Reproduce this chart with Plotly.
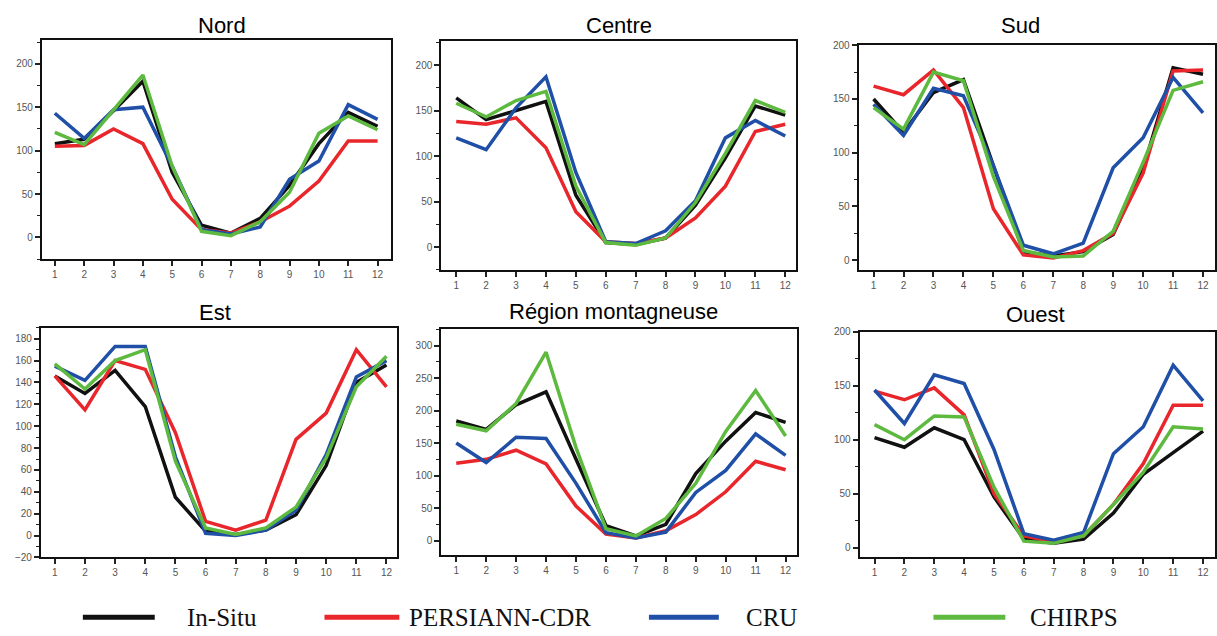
import plotly.graph_objects as go

W, H = 1217, 636

months = list(range(1, 13))
month_labels = [str(m) for m in months]

series_names = ["In-Situ", "PERSIANN-CDR", "CRU", "CHIRPS"]
series_colors = ["#111111", "#e8262b", "#1f4fa6", "#5dba3f"]

regions = ["Nord", "Centre", "Sud", "Est", "Région montagneuse", "Ouest"]

# Nord
nord_insitu = [108, 113, 146, 180, 75, 14, 5, 22, 60, 108, 144, 128]
nord_persiann = [105, 106, 125, 108, 44, 9, 5, 18, 36, 65, 111, 111]
nord_cru = [143, 114, 147, 150, 82, 9, 4, 12, 67, 88, 153, 136]
nord_chirps = [121, 107, 147, 187, 82, 7, 2, 18, 52, 120, 140, 124]

# Centre
centre_insitu = [164, 140, 150, 160, 57, 5, 3, 10, 46, 98, 155, 145]
centre_persiann = [138, 135, 142, 109, 39, 6, 4, 10, 32, 67, 127, 135]
centre_cru = [120, 107, 153, 187, 82, 6, 4, 18, 51, 120, 139, 122]
centre_chirps = [158, 143, 161, 171, 67, 5, 2, 10, 49, 103, 161, 148]

# Sud
sud_insitu = [150, 119, 156, 168, 88, 8, 4, 8, 24, 85, 179, 173]
sud_persiann = [162, 154, 177, 142, 48, 5, 2, 9, 25, 81, 176, 177]
sud_cru = [145, 116, 160, 153, 88, 14, 6, 16, 86, 114, 170, 137]
sud_chirps = [142, 122, 175, 167, 78, 9, 3, 4, 27, 91, 158, 166]

# Est
est_insitu = [146, 130, 151, 118, 35, 4, 1, 5, 19, 64, 140, 156]
est_persiann = [146, 115, 160, 152, 94, 13, 5, 14, 88, 112, 170, 136]
est_cru = [155, 142, 173, 173, 72, 2, 0, 5, 23, 74, 145, 160]
est_chirps = [157, 134, 160, 170, 68, 7, 1, 7, 26, 71, 136, 164]

# Région montagneuse
mont_insitu = [184, 171, 209, 229, 125, 23, 7, 25, 103, 153, 197, 182]
mont_persiann = [119, 125, 139, 118, 53, 10, 4, 15, 40, 75, 122, 109]
mont_cru = [150, 120, 159, 157, 88, 12, 4, 13, 74, 108, 164, 131]
mont_chirps = [179, 169, 211, 290, 143, 18, 7, 34, 88, 168, 231, 161]

# Ouest
ouest_insitu = [102, 93, 111, 100, 47, 8, 4, 8, 32, 68, 88, 108]
ouest_persiann = [145, 137, 148, 123, 50, 11, 5, 11, 40, 78, 132, 132]
ouest_cru = [146, 115, 160, 152, 91, 13, 7, 14, 87, 112, 169, 136]
ouest_chirps = [114, 100, 122, 121, 56, 6, 4, 11, 40, 70, 112, 110]

region_data = [
    [nord_insitu, nord_persiann, nord_cru, nord_chirps],
    [centre_insitu, centre_persiann, centre_cru, centre_chirps],
    [sud_insitu, sud_persiann, sud_cru, sud_chirps],
    [est_insitu, est_persiann, est_cru, est_chirps],
    [mont_insitu, mont_persiann, mont_cru, mont_chirps],
    [ouest_insitu, ouest_persiann, ouest_cru, ouest_chirps],
]

# layout (pixel boxes: left, right, top, bottom)
boxes = [
    (42, 392, 35, 258),
    (442, 797, 36, 269),
    (860, 1217, 40, 269),
    (41, 398, 328, 562),
    (442, 798, 329, 560),
    (861, 1217, 332, 562),
]
xranges = [(0.56, 12.47), (0.5, 12.35), (0.5, 12.4), (0.54, 12.36), (0.5, 12.37), (0.5, 12.4)]
yranges = [(-25, 227), (-25, 226), (-9, 200), (-20, 190), (-23, 326), (-9, 200)]
ydticks = [50, 50, 50, 20, 50, 50]
title_pos = [(222, 20), (620, 20), (1022, 20), (215, 312), (615, 311), (1037, 314)]

fig = go.Figure()

for i, (name, data) in enumerate(zip(regions, region_data)):
    ax = "" if i == 0 else str(i + 1)
    for s, vals in enumerate(data):
        fig.add_trace(go.Scatter(
            x=months, y=vals, mode="lines",
            line=dict(color=series_colors[s], width=3.5),
            name=series_names[s], showlegend=False,
            xaxis="x" + ax, yaxis="y" + ax,
        ))
    l, r, t, b = boxes[i]
    fig.layout["xaxis" + ax] = dict(
        domain=[l / W, r / W], anchor="y" + ax, range=list(xranges[i]),
        tickmode="array", tickvals=months, ticktext=month_labels,
        showline=True, mirror=True, linecolor="#111", linewidth=2,
        ticks="outside", ticklen=5, tickwidth=1.5, tickcolor="#222",
        showgrid=False, zeroline=False,
        tickfont=dict(family="Liberation Sans, Arial", size=10, color="#555"),
    )
    fig.layout["yaxis" + ax] = dict(
        domain=[1 - b / H, 1 - t / H], anchor="x" + ax, range=list(yranges[i]),
        dtick=ydticks[i], tick0=0,
        showline=True, mirror=True, linecolor="#111", linewidth=2,
        ticks="outside", ticklen=5, tickwidth=1.5, tickcolor="#222",
        minor=dict(dtick=ydticks[i] / 2, ticks="outside", ticklen=3, tickwidth=1, tickcolor="#222"),
        showgrid=False, zeroline=False,
        tickfont=dict(family="Liberation Sans, Arial", size=10, color="#555"),
    )
    tx, ty = title_pos[i]
    fig.add_annotation(
        x=tx / W, y=1 - ty / H, xref="paper", yref="paper",
        text=name, showarrow=False, xanchor="center", yanchor="middle",
        font=dict(family="Liberation Sans, Arial", size=22, color="#000"),
    )

# legend (drawn in paper space)
legend_line_x = [(83, 155), (325, 400), (650, 720), (935, 1007)]
legend_text_x = [185, 408, 745, 1030]
legend_y = 623
for s in range(4):
    x0, x1 = legend_line_x[s]
    fig.add_shape(type="line", xref="paper", yref="paper",
                  x0=x0 / W, x1=x1 / W, y0=1 - legend_y / H, y1=1 - legend_y / H,
                  line=dict(color=series_colors[s], width=5))
    fig.add_annotation(
        x=legend_text_x[s] / W, y=1 - legend_y / H, xref="paper", yref="paper",
        text=series_names[s], showarrow=False, xanchor="left", yanchor="middle",
        font=dict(family="Liberation Serif, Times New Roman", size=25, color="#111"),
    )

fig.update_layout(
    width=W, height=H, margin=dict(l=0, r=0, t=0, b=0),
    paper_bgcolor="white", plot_bgcolor="white", showlegend=False,
)

fig.write_html("out.html")
